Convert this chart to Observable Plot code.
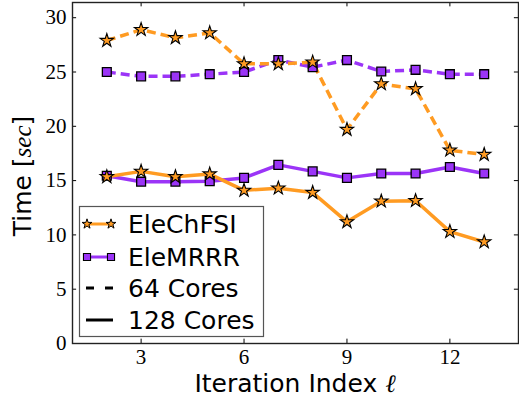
<!DOCTYPE html>
<html><head><meta charset="utf-8">
<script src="https://cdn.jsdelivr.net/npm/d3@7"></script>
<script src="https://cdn.jsdelivr.net/npm/@observablehq/plot@0.6"></script>
<style>
html,body{margin:0;padding:0;background:#fff;}
</style>
</head><body>
<div id="chart"></div>
<script>
const iterations = [2, 3, 4, 5, 6, 7, 8, 9, 10, 11, 12, 13];
const eleChFSI64  = [27.9, 28.9, 28.15, 28.6, 25.75, 25.75, 25.9, 19.7, 23.9, 23.45, 17.8, 17.4];
const eleMRRR64   = [25.0, 24.6, 24.6, 24.8, 25.0, 26.1, 25.45, 26.1, 25.05, 25.2, 24.8, 24.8];
const eleChFSI128 = [15.35, 15.85, 15.35, 15.6, 14.1, 14.3, 13.9, 11.2, 13.1, 13.15, 10.3, 9.35];
const eleMRRR128  = [15.45, 14.9, 14.9, 14.95, 15.25, 16.45, 15.85, 15.25, 15.65, 15.65, 16.25, 15.65];
const xTicks = [3, 6, 9, 12];
const yTicks = [0, 5, 10, 15, 20, 25, 30];
const methods = ["EleChFSI", "EleMRRR"];
const coreLabels = ["64 Cores", "128 Cores"];

const ORANGE = "#ff9b22";
const PURPLE = "#9b34f7";

function rows(vals, method, cores) {
  return iterations.map((x, i) => ({x, t: vals[i], method, cores}));
}
const s1 = rows(eleChFSI64, "EleChFSI", 64);
const s2 = rows(eleMRRR64, "EleMRRR", 64);
const s3 = rows(eleChFSI128, "EleChFSI", 128);
const s4 = rows(eleMRRR128, "EleMRRR", 128);

const yTop = 31.4;
const yTickLen = 0.4;   // data units (~4px)
const xTickLen = 0.12;

const lineOpt = (color, dashed) => ({x: "x", y: "t", stroke: color, strokeWidth: 3.5, strokeDasharray: dashed ? "9,5" : null, strokeLinecap: "butt"});
const starOpt = {x: "x", y: "t", symbol: "star", r: 4.2, fill: ORANGE, stroke: "black", strokeWidth: 1.1};
const sqOpt = {x: "x", y: "t", symbol: "square", r: 5.0, fill: PURPLE, stroke: "black", strokeWidth: 1.3};

const plot = Plot.plot({
  width: 519,
  height: 398,
  marginLeft: 72,
  marginRight: 1,
  marginTop: 2,
  marginBottom: 55,
  x: {domain: [1, 14]},
  y: {domain: [0, yTop]},
  style: {background: "white", overflow: "visible"},
  marks: [
    Plot.ruleX(xTicks, {x: d => d, y1: 0, y2: yTickLen, stroke: "black", strokeWidth: 1}),
    Plot.ruleX(xTicks, {x: d => d, y1: yTop, y2: yTop - yTickLen, stroke: "black", strokeWidth: 1}),
    Plot.ruleY(yTicks, {y: d => d, x1: 1, x2: 1 + xTickLen, stroke: "black", strokeWidth: 1}),
    Plot.ruleY(yTicks, {y: d => d, x1: 14, x2: 14 - xTickLen, stroke: "black", strokeWidth: 1}),
    Plot.line(s2, lineOpt(PURPLE, true)),
    Plot.line(s1, lineOpt(ORANGE, true)),
    Plot.line(s4, lineOpt(PURPLE, false)),
    Plot.line(s3, lineOpt(ORANGE, false)),
    Plot.dot(s2, sqOpt),
    Plot.dot(s1, starOpt),
    Plot.dot(s4, sqOpt),
    Plot.dot(s3, starOpt),
    Plot.axisX({ticks: xTicks, tickSize: 0, tickPadding: 6, fontSize: 21, fontFamily: "Liberation Serif", label: null}),
    Plot.axisY({ticks: yTicks, tickSize: 0, tickPadding: 6, fontSize: 21, fontFamily: "Liberation Serif", label: null}),
    Plot.frame({stroke: "#222", strokeWidth: 1.4})
  ]
});

document.getElementById("chart").appendChild(plot);
const svg = d3.select(plot);
svg.selectAll("g[aria-label='x-axis tick label'] text, g[aria-label='y-axis tick label'] text").attr("fill", "black");

// Axis titles
svg.append("text")
  .attr("x", 295).attr("y", 392)
  .attr("text-anchor", "middle")
  .attr("fill", "black")
  .attr("font-family", "DejaVu Sans").attr("font-size", 25)
  .text("Iteration Index ")
  .append("tspan").attr("font-family", "DejaVu Serif").attr("font-style", "italic").text("ℓ");

const yl = svg.append("text")
  .attr("transform", "translate(31,176) rotate(-90)")
  .attr("text-anchor", "middle")
  .attr("fill", "black")
  .attr("font-family", "DejaVu Sans").attr("font-size", 25);
yl.append("tspan").text("Time [");
yl.append("tspan").attr("font-family", "Liberation Serif").attr("font-style", "italic").text("sec");
yl.append("tspan").text("]");

// Legend
const lg = svg.append("g");
lg.append("rect").attr("x", 79.5).attr("y", 206.5).attr("width", 184).attr("height", 130)
  .attr("fill", "white").attr("stroke", "#555").attr("stroke-width", 1.2);
const rowsY = [224, 257, 288, 320];
const hx1 = 87, hx2 = 111;
lg.append("line").attr("x1", hx1).attr("x2", hx2).attr("y1", rowsY[0]).attr("y2", rowsY[0]).attr("stroke", ORANGE).attr("stroke-width", 3);
lg.append("line").attr("x1", hx1).attr("x2", hx2).attr("y1", rowsY[1]).attr("y2", rowsY[1]).attr("stroke", PURPLE).attr("stroke-width", 3);
const star = d3.symbol(d3.symbolStar, 30)();
const sq = d3.symbol(d3.symbolSquare, 50)();
[hx1, hx2].forEach(x => {
  lg.append("path").attr("d", star).attr("transform", `translate(${x},${rowsY[0]})`).attr("fill", ORANGE).attr("stroke", "black").attr("stroke-width", 1);
  lg.append("path").attr("d", sq).attr("transform", `translate(${x},${rowsY[1]})`).attr("fill", PURPLE).attr("stroke", "black").attr("stroke-width", 1.1);
});
lg.append("line").attr("x1", 86).attr("x2", 114).attr("y1", rowsY[2]).attr("y2", rowsY[2]).attr("stroke", "black").attr("stroke-width", 3).attr("stroke-dasharray", "8,11");
lg.append("line").attr("x1", 86).attr("x2", 113).attr("y1", rowsY[3]).attr("y2", rowsY[3]).attr("stroke", "black").attr("stroke-width", 3);
const labels = [...methods, ...coreLabels];
labels.forEach((t, i) => {
  lg.append("text").attr("x", 128).attr("y", rowsY[i]).attr("dy", "0.36em")
    .attr("text-anchor", "start")
    .attr("font-family", "DejaVu Sans").attr("font-size", 25).attr("fill", "black").text(t);
});
</script>
</body></html>
